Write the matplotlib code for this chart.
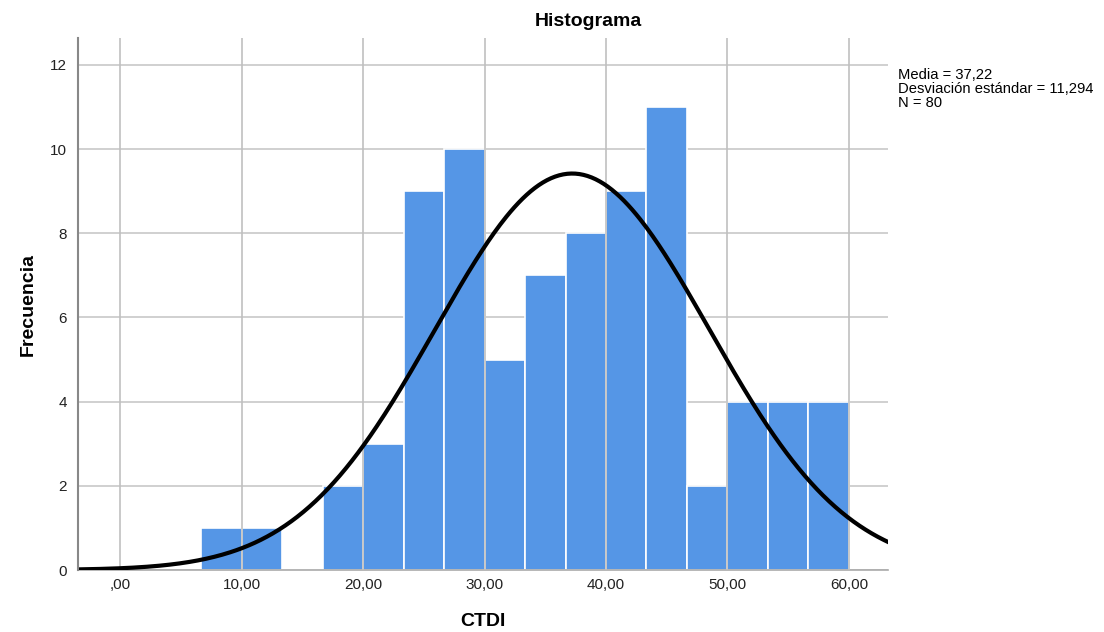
import numpy as np
import matplotlib.pyplot as plt

plt.rcParams['font.family'] = ['Liberation Sans', 'DejaVu Sans']

# histogram bins (lower edges) and counts
bin_width = 10 / 3
bin_starts = [20 / 3 + i * bin_width for i in range(16)]
counts = [1, 1, 0, 2, 3, 9, 10, 5, 7, 8, 9, 11, 2, 4, 4, 4]

mean = 37.22
sd = 11.294
n = 80

xticks = [0, 10, 20, 30, 40, 50, 60]
xtick_labels = [',00', '10,00', '20,00', '30,00', '40,00', '50,00', '60,00']
yticks = [0, 2, 4, 6, 8, 10, 12]

fig = plt.figure(figsize=(11.04, 6.32), dpi=100)
ax = fig.add_axes([0.0707, 0.0981, 0.8043 - 0.0707, 0.9399 - 0.0981])

ax.bar(bin_starts, counts, width=bin_width, align='edge',
       color='#5596E6', edgecolor='white', linewidth=1.2, zorder=2)

# vertical grid over bars, horizontal grid under them
for y in yticks:
    ax.axhline(y, color='#c8c8c8', linewidth=1.2, zorder=1)
for x in xticks:
    ax.axvline(x, color='#c0c0c0', linewidth=1.2, zorder=3)

# fitted normal curve
xs = np.linspace(-3.46, 63.21, 400)
ys = n * bin_width / (sd * np.sqrt(2 * np.pi)) * np.exp(-0.5 * ((xs - mean) / sd) ** 2)
ax.plot(xs, ys, color='black', linewidth=3, zorder=4)

ax.set_xlim(-3.46, 63.21)
ax.set_ylim(0, 12.64)
ax.set_xticks(xticks)
ax.set_xticklabels(xtick_labels)
ax.set_yticks(yticks)
ax.tick_params(length=0, labelsize=11, colors='#222222', pad=8)
ax.tick_params(axis='x', pad=6)

for side in ['top', 'right']:
    ax.spines[side].set_visible(False)
ax.spines['left'].set_color('#888888')
ax.spines['left'].set_linewidth(1.5)
ax.spines['bottom'].set_color('#aaaaaa')
ax.spines['bottom'].set_linewidth(1.2)
ax.spines['left'].set_zorder(5)

fig.text(483 / 1104, 1 - 622 / 632, 'CTDI', fontsize=14, fontweight='bold',
         ha='center', va='center')
fig.text(28 / 1104, 1 - 304 / 632, 'Frecuencia', fontsize=14, fontweight='bold',
         ha='center', va='center', rotation=90)
fig.text(588 / 1104, 1 - 22 / 632, 'Histograma', fontsize=14, fontweight='bold',
         ha='center', va='center')

fig.text(898 / 1104, 1 - 89 / 632,
         'Media = 37,22\nDesviación estándar = 11,294\nN = 80',
         fontsize=10.6, ha='left', va='center', linespacing=1.0)

fig.savefig('out.png', dpi=100)
